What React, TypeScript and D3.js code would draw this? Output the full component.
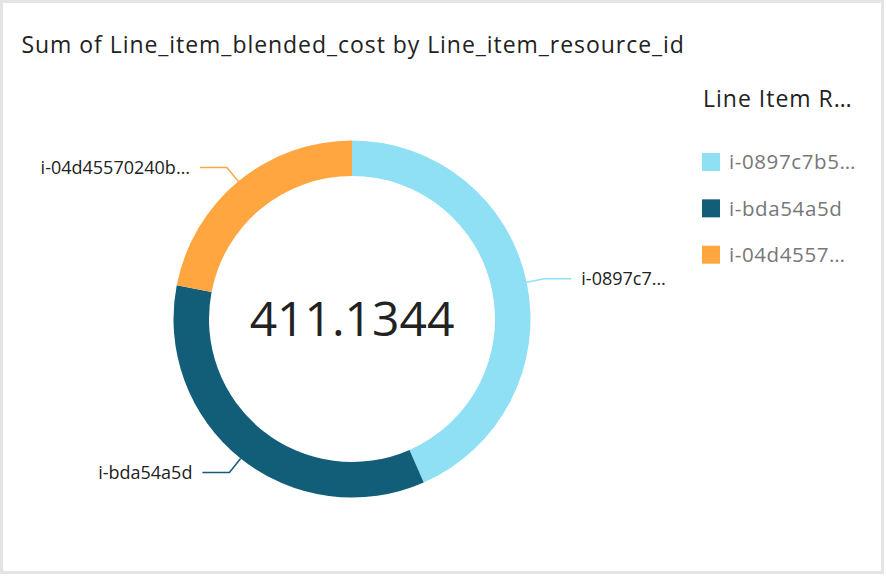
import React from "react";
import * as d3 from "d3";

const chartTitle = "Sum of Line_item_blended_cost by Line_item_resource_id";
const legendTitle = "Line Item R…";
const resourceIds = ["i-0897c7b5", "i-bda54a5d", "i-04d45570240b"];
const costs = [178.5, 142.3, 90.3344];
const sliceLabels = ["i-0897c7…", "i-bda54a5d", "i-04d45570240b…"];
const legendLabels = ["i-0897c7b5…", "i-bda54a5d", "i-04d4557…"];
const colors = ["#8fe0f4", "#125d78", "#ffa640"];
const totalLabel = "411.1344";

const W = 886;
const H = 576;
const FONT = "'Open Sans', 'Noto Sans', sans-serif";

export default function App() {
  const cx = 352;
  const cy = 319;
  const outerR = 178.5;
  const innerR = 143;

  const data = resourceIds.map((id, i) => ({ id, value: costs[i], i }));
  const pie = d3
    .pie<{ id: string; value: number; i: number }>()
    .sort(null)
    .value((d) => d.value)
    .startAngle(0)
    .endAngle(2 * Math.PI);
  const arcs = pie(data);
  const arcGen = d3
    .arc<d3.PieArcDatum<{ id: string; value: number; i: number }>>()
    .innerRadius(innerR)
    .outerRadius(outerR);

  const polar = (a: number, r: number): [number, number] => [
    Math.sin(a) * r,
    -Math.cos(a) * r,
  ];

  const color = d3.scaleOrdinal<string, string>().domain(resourceIds).range(colors);
  const legendY = d3
    .scalePoint<string>()
    .domain(resourceIds)
    .range([162, 254.7]);

  return (
    <svg
      width={W}
      height={H}
      style={{ position: "absolute", left: 0, top: 0, background: "#fff" }}
      fontFamily={FONT}
    >
      <rect x={0} y={0} width={W} height={H} fill="#ffffff" />
      <rect
        x={1.5}
        y={1.5}
        width={881}
        height={571}
        fill="none"
        stroke="#e4e4e4"
        strokeWidth={3}
      />
      <text x={21.5} y={53.3} fontSize={23} letterSpacing={0.95} fill="#222">
        {chartTitle}
      </text>

      <g transform={`translate(${cx},${cy})`}>
        {arcs.map((a) => (
          <path key={a.data.id} d={arcGen(a) || ""} fill={color(a.data.id)} />
        ))}
        {arcs.map((a) => {
          const mid = (a.startAngle + a.endAngle) / 2;
          const p0 = polar(mid, outerR);
          const p1 = polar(mid, outerR + 18);
          const right = p1[0] > 0;
          const p2: [number, number] = [p1[0] + (right ? 27 : -27), p1[1]];
          return (
            <g key={"lab" + a.data.id}>
              <polyline
                points={[p0, p1, p2].map((p) => p.join(",")).join(" ")}
                fill="none"
                stroke={color(a.data.id)}
                strokeWidth={1.5}
              />
              <text
                x={p2[0] + (right ? 10 : -10)}
                y={p2[1]}
                dy="0.35em"
                textAnchor={right ? "start" : "end"}
                fontSize={18}
                fill="#222"
              >
                {sliceLabels[a.data.i]}
              </text>
            </g>
          );
        })}
        <text
          x={0}
          y={0}
          dy="0.36em"
          textAnchor="middle"
          fontSize={48}
          fill="#222"
        >
          {totalLabel}
        </text>
      </g>

      <text x={703} y={106.7} fontSize={23} letterSpacing={1} fill="#222">
        {legendTitle}
      </text>
      {resourceIds.map((id, i) => {
        const y = legendY(id) as number;
        return (
          <g key={"leg" + id}>
            <rect x={702} y={y - 9} width={18} height={18} fill={color(id)} />
            <text
              x={729}
              y={y}
              dy="0.35em"
              fontSize={20.5}
              letterSpacing={0.6}
              fill="#777"
            >
              {legendLabels[i]}
            </text>
          </g>
        );
      })}
    </svg>
  );
}
